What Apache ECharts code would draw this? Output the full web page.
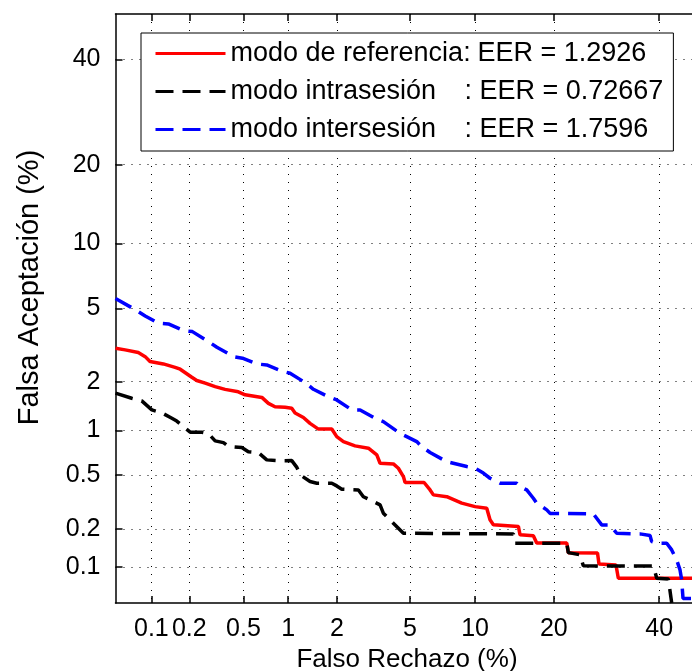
<!DOCTYPE html>
<html>
<head>
<meta charset="utf-8">
<script src="https://cdn.jsdelivr.net/npm/echarts@6/dist/echarts.min.js"></script>
<style>
  html, body { margin: 0; padding: 0; background: #fff; }
  #chart { width: 692px; height: 671px; }
</style>
</head>
<body>
<div id="chart"></div>
<script>
// DET curves: false acceptance vs. false rejection, both in percent (normal deviate scale)
const tickPercents = [0.1, 0.2, 0.5, 1, 2, 5, 10, 20, 40];
const tickLabels = ['0.1', '0.2', '0.5', '1', '2', '5', '10', '20', '40'];
const axisMinPercent = 0.05;
const axisMaxPercent = 50;

const seriesNames = ['modo de referencia', 'modo intrasesión', 'modo intersesión'];
const eerValues = ['1.2926', '0.72667', '1.7596'];

// modo de referencia
const frRef = [0.05, 0.0605, 0.078, 0.089, 0.0975, 0.125, 0.155, 0.170, 0.185, 0.209, 0.228, 0.264, 0.313, 0.370, 0.460, 0.514, 0.670, 0.742, 0.821, 0.956, 1.056, 1.109, 1.252, 1.377, 1.550, 1.866, 1.996, 2.183, 2.545, 3.022, 3.357, 3.496, 4.110, 4.361, 4.627, 4.720, 5.861, 6.263, 6.493, 7.495, 8.752, 9.997, 11.19, 11.54, 11.91, 14.92, 15.14, 16.95, 17.43, 22.08, 22.34, 27.50, 27.78, 31.05, 31.51, 50];
const faRef = [3.09, 3.03, 2.93, 2.78, 2.61, 2.53, 2.42, 2.36, 2.26, 2.12, 2.03, 1.96, 1.87, 1.80, 1.74, 1.67, 1.61, 1.48, 1.41, 1.40, 1.38, 1.29, 1.21, 1.11, 1.02, 1.02, 0.911, 0.845, 0.792, 0.764, 0.689, 0.604, 0.598, 0.558, 0.488, 0.443, 0.443, 0.392, 0.361, 0.350, 0.314, 0.296, 0.288, 0.236, 0.216, 0.210, 0.181, 0.178, 0.156, 0.156, 0.131, 0.130, 0.106, 0.104, 0.081, 0.081];

// modo intrasesión
const frIntra = [0.05, 0.0687, 0.0834, 0.1009, 0.1217, 0.1462, 0.1597, 0.1853, 0.2030, 0.2489, 0.2792, 0.313, 0.3598, 0.391, 0.487, 0.541, 0.635, 0.7232, 0.8876, 1.056, 1.138, 1.193, 1.377, 1.516, 1.866, 1.996, 2.137, 2.659, 2.834, 3.087, 3.496, 3.639, 4.195, 4.627, 14.28, 14.49, 22.08, 22.34, 24.34, 24.92, 38.75, 39.48, 41.99, 42.73];
const faIntra = [1.707, 1.591, 1.533, 1.349, 1.293, 1.196, 1.148, 1.038, 0.974, 0.974, 0.953, 0.854, 0.832, 0.786, 0.772, 0.724, 0.713, 0.637, 0.629, 0.63, 0.566, 0.502, 0.450, 0.438, 0.438, 0.419, 0.397, 0.392, 0.350, 0.332, 0.305, 0.2645, 0.2156, 0.186, 0.184, 0.1556, 0.1556, 0.131, 0.1258, 0.1025, 0.102, 0.081, 0.080, 0.05];

// modo intersesión
const frInter = [0.05, 0.0759, 0.089, 0.1139, 0.1372, 0.1801, 0.2112, 0.2792, 0.3223, 0.4249, 0.492, 0.618, 0.723, 0.910, 1.030, 1.284, 1.445, 1.779, 1.996, 2.440, 2.718, 3.285, 3.639, 4.195, 4.627, 5.397, 5.712, 6.263, 7.495, 8.028, 9.207, 9.997, 10.83, 11.54, 12.67, 14.70, 15.14, 16.03, 16.95, 17.43, 18.91, 19.41, 26.73, 28.29, 29.88, 31.19, 35.93, 38.04, 38.40, 39.82, 41.64, 42.73, 43.83, 44.56, 44.93, 45.22, 50];
const faInter = [5.6, 4.874, 4.582, 4.205, 4.170, 3.847, 3.800, 3.361, 3.133, 2.781, 2.725, 2.529, 2.497, 2.301, 2.237, 1.973, 1.802, 1.628, 1.554, 1.349, 1.349, 1.196, 1.139, 1.008, 0.934, 0.845, 0.783, 0.715, 0.619, 0.604, 0.573, 0.558, 0.516, 0.475, 0.438, 0.438, 0.414, 0.392, 0.341, 0.314, 0.280, 0.2636, 0.2612, 0.2156, 0.2156, 0.186, 0.184, 0.179, 0.160, 0.1556, 0.1556, 0.1377, 0.1143, 0.0949, 0.0785, 0.0547, 0.0547];

// Inverse of the standard normal CDF (Acklam's rational approximation)
function probit(p) {
  const a = [-3.969683028665376e+01, 2.209460984245205e+02, -2.759285104469687e+02, 1.383577518672690e+02, -3.066479806614716e+01, 2.506628277459239e+00];
  const b = [-5.447609879822406e+01, 1.615858368580409e+02, -1.556989798598866e+02, 6.680131188771972e+01, -1.328068155288572e+01];
  const c = [-7.784894002430293e-03, -3.223964580411365e-01, -2.400758277161838e+00, -2.549732539343734e+00, 4.374664141464968e+00, 2.938163982698783e+00];
  const d = [7.784695709041462e-03, 3.224671290700398e-01, 2.445134137142996e+00, 3.754408661907416e+00];
  const pl = 0.02425, ph = 1 - pl;
  let q, r;
  if (p < pl) {
    q = Math.sqrt(-2 * Math.log(p));
    return (((((c[0] * q + c[1]) * q + c[2]) * q + c[3]) * q + c[4]) * q + c[5]) /
           ((((d[0] * q + d[1]) * q + d[2]) * q + d[3]) * q + 1);
  }
  if (p <= ph) {
    q = p - 0.5; r = q * q;
    return (((((a[0] * r + a[1]) * r + a[2]) * r + a[3]) * r + a[4]) * r + a[5]) * q /
           (((((b[0] * r + b[1]) * r + b[2]) * r + b[3]) * r + b[4]) * r + 1);
  }
  q = Math.sqrt(-2 * Math.log(1 - p));
  return -(((((c[0] * q + c[1]) * q + c[2]) * q + c[3]) * q + c[4]) * q + c[5]) /
          ((((d[0] * q + d[1]) * q + d[2]) * q + d[3]) * q + 1);
}
const dev = pct => probit(pct / 100);

const tickDev = tickPercents.map(dev);
const axisMin = dev(axisMinPercent);
const axisMax = axisMaxPercent === 50 ? 0 : dev(axisMaxPercent);

function labelFor(v) {
  let best = 0, bd = Infinity;
  tickDev.forEach((t, i) => { const dd = Math.abs(t - v); if (dd < bd) { bd = dd; best = i; } });
  return tickLabels[best];
}

function toPoints(fr, fa) {
  return fr.map((x, i) => [dev(x), dev(fa[i])]);
}

const FONT = "'Liberation Sans', Arial, Helvetica, sans-serif";

const gridLine = { show: true, lineStyle: { color: '#000', width: 1, type: [1, 7] } };
const tickStyle = { show: true, inside: true, length: 7, customValues: tickDev, lineStyle: { color: '#000', width: 1.5 } };

function valueAxis(extra) {
  return Object.assign({
    type: 'value', min: axisMin, max: axisMax,
    axisLine: { show: true, onZero: false, lineStyle: { color: '#000', width: 1.5 } },
    axisTick: tickStyle,
    splitLine: { show: false },
    axisLabel: { show: false }
  }, extra);
}

const chart = echarts.init(document.getElementById('chart'), null, { renderer: 'canvas' });

const LEG_FS = 27;
const legendRich = {
  n1: { width: 247, fontSize: LEG_FS, lineHeight: 26, fontFamily: FONT, color: '#000' },
  n2: { width: 234, fontSize: LEG_FS, lineHeight: 26, fontFamily: FONT, color: '#000' },
  e: { fontSize: LEG_FS, lineHeight: 26, fontFamily: FONT, color: '#000' }
};

chart.setOption({
  backgroundColor: '#fff',
  animation: false,
  grid: { left: 115.5, top: 14, width: 589, height: 589, containLabel: false, outerBoundsMode: 'none' },
  xAxis: [
    valueAxis({
      position: 'bottom',
      name: 'Falso Rechazo (%)', nameLocation: 'middle', nameGap: 41,
      nameTextStyle: { fontFamily: FONT, fontSize: 26, color: '#000', padding: [0, 6, 0, 0] },
      splitLine: Object.assign({}, gridLine),
      axisLabel: { show: true, customValues: tickDev, margin: 14, fontFamily: FONT, fontSize: 25, color: '#000', formatter: labelFor }
    }),
    valueAxis({ position: 'top' })
  ],
  yAxis: [
    valueAxis({
      position: 'left',
      name: 'Falsa Aceptación (%)', nameLocation: 'middle', nameGap: 71,
      nameTextStyle: { fontFamily: FONT, fontSize: 29, color: '#000', padding: [0, 0, 0, 42] },
      splitLine: Object.assign({}, gridLine),
      axisLabel: { show: true, customValues: tickDev, margin: 15, fontFamily: FONT, fontSize: 25, color: '#000', formatter: labelFor }
    }),
    valueAxis({ position: 'right' })
  ],
  legend: {
    orient: 'vertical', left: 141, top: 33,
    padding: [7, 10, 8, 13], itemGap: 11, itemWidth: 70, itemHeight: 14,
    backgroundColor: '#fff', borderColor: '#000', borderWidth: 1, borderRadius: 0,
    itemStyle: { opacity: 0 },
    lineStyle: { width: 3 },
    data: seriesNames,
    textStyle: { fontFamily: FONT, fontSize: LEG_FS, lineHeight: 26, color: '#000', rich: legendRich },
    formatter: name => {
      const i = seriesNames.indexOf(name);
      if (i === 0) return '{n1|' + name + ':}{e|EER = ' + eerValues[i] + '}';
      return '{n2|' + name + '}{e|: EER = ' + eerValues[i] + '}';
    }
  },
  series: [
    {
      name: seriesNames[0], type: 'line', data: toPoints(frRef, faRef),
      showSymbol: false, symbol: 'none', xAxisIndex: 0, yAxisIndex: 0,
      lineStyle: { color: '#ff0000', width: 3.5, type: 'solid' }, itemStyle: { color: '#ff0000' }
    },
    {
      name: seriesNames[1], type: 'line', data: toPoints(frIntra, faIntra),
      showSymbol: false, symbol: 'none', xAxisIndex: 0, yAxisIndex: 0,
      lineStyle: { color: '#000000', width: 3.5, type: [18, 9] }, itemStyle: { color: '#000000' }
    },
    {
      name: seriesNames[2], type: 'line', data: toPoints(frInter, faInter),
      showSymbol: false, symbol: 'none', xAxisIndex: 0, yAxisIndex: 0,
      lineStyle: { color: '#0000ff', width: 3.5, type: [18, 9] }, itemStyle: { color: '#0000ff' }
    }
  ]
});
</script>
</body>
</html>
